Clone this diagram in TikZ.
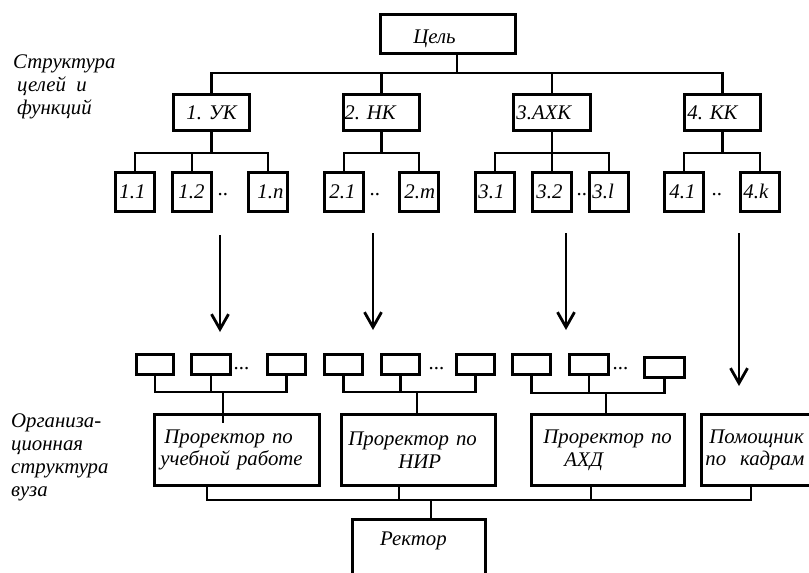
\documentclass[tikz,border=0pt]{standalone}
\usepackage{fontspec}
\setmainfont{Liberation Serif}
\usetikzlibrary{arrows.meta}
\newcommand\dfont{\fontsize{20.8pt}{22.8pt}\selectfont\itshape\frenchspacing}
\begin{document}
\begin{tikzpicture}[x=1pt,y=-1pt,
  lw/.style={line width=2.8pt},
  bx/.style={draw, line width=2.8pt, anchor=north west, inner ysep=0pt, inner xsep=2pt, align=left, font=\dfont},
  sbx/.style={bx, text width=35pt, minimum height=39pt},
  ebx/.style={draw, line width=2.8pt, anchor=north west, inner sep=0pt, minimum width=#1, minimum height=20pt},
  lab/.style={font=\dfont, anchor=base west, inner sep=0pt},
  arr/.style={line width=2.8pt, -{Straight Barb[length=15pt,width=17pt]}}]
\useasboundingbox (0,0) rectangle (809,573);
\clip (0,0) rectangle (809,573);

% level coordinates
\coordinate (h1) at (0,73);
\coordinate (h2) at (0,153);
\coordinate (h3) at (0,392);
\coordinate (h3b) at (0,393);

% left labels
\node[lab] (la1) at (13,68) {Структура};
\node[lab] (la2) at (17,91) {целей\ \ и};
\node[lab] (la3) at (17,114) {функций};
\node[lab] (lb1) at (11,427) {Организа-};
\node[lab] (lb2) at (11,450) {ционная};
\node[lab] (lb3) at (11,473) {структура};
\node[lab] (lb4) at (11,496) {вуза};

% top
\node[bx, text width=131pt, text height=24pt, minimum height=39pt] (cel) at (379,13) {\hspace*{31pt}Цель};

% level 2
\node[bx, text width=72pt, minimum height=36pt] (uk) at (172,93) {\hspace*{11pt}1. УК};
\node[bx, inner xsep=1pt, text width=74pt, minimum height=36pt] (nk) at (342,93) {2. НК};
\node[bx, inner xsep=3pt, text width=71pt, minimum height=36pt] (ahk) at (512,93) {3.АХК};
\node[bx, inner xsep=3pt, text width=70pt, minimum height=36pt] (kk) at (683,93) {4. КК};

% level 3
\node[sbx] (b11) at (114,171) {\hspace*{2pt}1.1};
\node[sbx] (b12) at (171,171) {\hspace*{4pt}1.2};
\node[sbx] (b1n) at (247,171) {\hspace*{7pt}1.n};
\node[sbx] (b21) at (323,171) {\hspace*{3pt}2.1};
\node[sbx] (b2m) at (398,171) {\hspace*{3pt}2.m};
\node[sbx] (b31) at (474,171) {\hspace*{1pt}3.1};
\node[sbx] (b32) at (531,171) {\hspace*{2pt}3.2};
\node[sbx] (b3l) at (588,171) {\hspace*{1pt}3.l};
\node[sbx] (b41) at (663,171) {\hspace*{3pt}4.1};
\node[sbx] (b4k) at (739,171) {\hspace*{1pt}4.k};
\node[lab] (d1) at (218,195) {..};
\node[lab] (d2) at (370,195) {..};
\node[lab] (d3) at (577,195) {..};
\node[lab] (d4) at (712,195) {..};

% connectors top
\coordinate (j0) at (457,73);
\draw[lw] (j0 |- cel.south) -- (j0);
\draw[lw] (uk.north) |- (kk.north |- h1) -- (kk.north);
\draw[lw] (nk.north) -- (nk.north |- h1);
\draw[lw] (ahk.north) -- (ahk.north |- h1);

\draw[lw] (uk.south) -- (uk.south |- h2);
\draw[lw] (b11.north) |- (b1n.north |- h2) -- (b1n.north);
\draw[lw] (b12.north) -- (b12.north |- h2);
\draw[lw] (nk.south) -- (nk.south |- h2);
\draw[lw] (b21.north) |- (b2m.north |- h2) -- (b2m.north);
\draw[lw] (ahk.south) -- (ahk.south |- h2);
\draw[lw] (b31.north) |- (b3l.north |- h2) -- (b3l.north);
\draw[lw] (b32.north) -- (b32.north |- h2);
\draw[lw] (kk.south) -- (kk.south |- h2);
\draw[lw] (b41.north) |- (b4k.north |- h2) -- (b4k.north);

% arrows
\coordinate (a1s) at (220,235); \coordinate (a1e) at (220,332);
\coordinate (a2s) at (373,233); \coordinate (a2e) at (373,330);
\coordinate (a3s) at (566,233); \coordinate (a3e) at (566,330);
\coordinate (a4s) at (739,233); \coordinate (a4e) at (739,386);
\draw[arr] (a1s) -- (a1e);
\draw[arr] (a2s) -- (a2e);
\draw[arr] (a3s) -- (a3e);
\draw[arr] (a4s) -- (a4e);

% small boxes
\node[ebx=37pt] (s11) at (135,353) {};
\node[ebx=39pt] (s12) at (190,353) {};
\node[ebx=38pt] (s13) at (266,353) {};
\node[ebx=38pt] (s21) at (323,353) {};
\node[ebx=38pt] (s22) at (380,353) {};
\node[ebx=38pt] (s23) at (455,353) {};
\node[ebx=38pt] (s31) at (511,353) {};
\node[ebx=39pt] (s32) at (568,353) {};
\node[ebx=40pt] (s33) at (643,356) {};
\node[lab] (e1) at (234,369) {...};
\node[lab] (e2) at (429,369) {...};
\node[lab] (e3) at (613,369) {...};

% pro-rectors
\node[bx, inner xsep=6pt, text width=153pt, minimum height=71pt] (p1) at (153,413) {\hspace*{4pt}Проректор по\\учебной работе};
\node[bx, inner xsep=7pt, text width=140pt, minimum height=71pt] (p2) at (340,413) {Проректор по\\\hspace*{50pt}НИР};
\node[bx, inner xsep=12pt, text width=129pt, minimum height=71pt] (p3) at (530,413) {Проректор по\\\hspace*{21pt}АХД};
\node[bx, inner xsep=4pt, text width=126pt, minimum height=71pt] (pom) at (700,413) {\hspace*{4pt}Помощник\\по\ \ кадрам};
\node[draw, lw, anchor=north west, inner sep=0pt, minimum width=133pt, minimum height=90pt] (rektor) at (351,518) {};
\node[lab] (rektortxt) at (380,545) {Ректор};

% lower connectors
\draw[lw] (s11.south) |- (s13.south |- h3) -- (s13.south);
\draw[lw] (s12.south) -- (s12.south |- h3);
\coordinate (k1) at (223,392); \coordinate (k1e) at (223,423);
\draw[lw] (k1) -- (k1e);
\draw[lw] (s21.south) |- (s23.south |- h3) -- (s23.south);
\draw[lw] (s22.south) -- (s22.south |- h3);
\coordinate (k2) at (417,392);
\draw[lw] (k2) -- (k2 |- p2.north);
\draw[lw] (s31.south) |- (s33.south |- h3b) -- (s33.south);
\draw[lw] (s32.south) -- (s32.south |- h3b);
\coordinate (k3) at (606,393);
\draw[lw] (k3) -- (k3 |- p3.north);

\coordinate (m1) at (207,500);
\coordinate (m2) at (399,500);
\coordinate (m3) at (591,500);
\coordinate (m4) at (751,500);
\coordinate (m5) at (431,500);
\draw[lw] (m1 |- p1.south) -- (m1) -- (m4) -- (m4 |- pom.south);
\draw[lw] (m2 |- p2.south) -- (m2);
\draw[lw] (m3 |- p3.south) -- (m3);
\draw[lw] (m5) -- (m5 |- rektor.north);
\end{tikzpicture}
\end{document}
